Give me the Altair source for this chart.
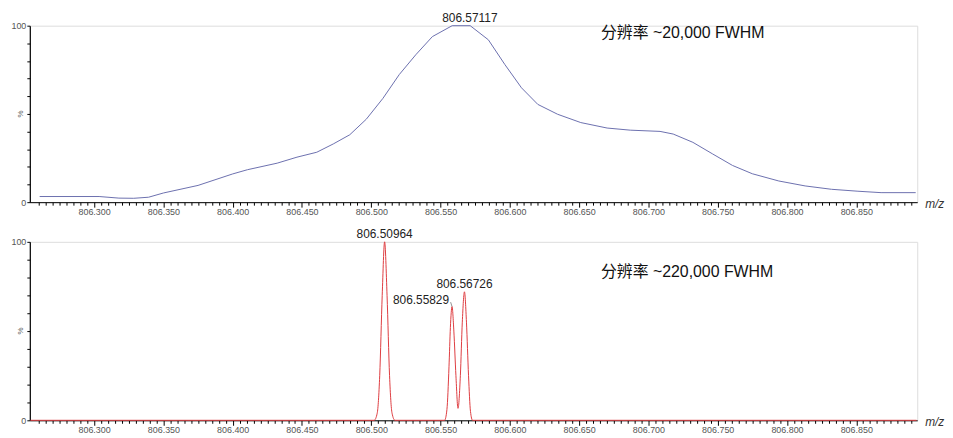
import altair as alt
import pandas as pd

# ---------------- data ----------------
top_mz = [806.2607, 806.3036, 806.3179, 806.3286, 806.3393, 806.3500, 806.3750,
          806.4000, 806.4107, 806.4321, 806.4464, 806.4607, 806.4726, 806.4845,
          806.4964, 806.5084, 806.5202, 806.5321, 806.5441, 806.5584, 806.5714,
          806.5845, 806.5964, 806.6084, 806.6202, 806.6345, 806.6512, 806.6702,
          806.6869, 806.7084, 806.7179, 806.7321, 806.7464, 806.7607, 806.7750,
          806.7941, 806.8131, 806.8321, 806.8512, 806.8679, 806.8929]
top_int = [3.2, 3.2, 2.3, 2.2, 2.8, 5.2, 9.5,
           16.0, 18.4, 22.1, 25.5, 28.3, 33.0, 38.2,
           47.0, 58.8, 72.3, 83.5, 93.8, 100.0, 100.0,
           92.0, 78.0, 64.8, 55.4, 49.8, 45.1, 42.0,
           40.8, 40.1, 38.6, 33.9, 27.3, 20.8, 16.1,
           12.0, 9.2, 7.3, 6.2, 5.4, 5.4]

bot_mz = [806.2540, 806.5021, 806.5043, 806.5061, 806.5079, 806.50964, 806.5114,
          806.5132, 806.5150, 806.5171, 806.5529, 806.5546, 806.5561, 806.5571,
          806.55829, 806.5596, 806.5611, 806.5626, 806.5643, 806.5657, 806.56726,
          806.5687, 806.5702, 806.5716, 806.5731, 806.8935]
bot_int = [0.0, 0.0, 4.0, 25.0, 70.0, 100.0, 70.0,
           25.0, 4.0, 0.0, 0.0, 6.0, 30.0, 52.0,
           63.7, 50.0, 25.0, 6.7, 25.0, 55.0, 72.0,
           55.0, 25.0, 5.0, 0.0, 0.0]

top_labels_mz = [806.57117]
top_labels_int = [100.0]
top_labels_txt = ["806.57117"]

bot_labels_mz = [806.50964, 806.55829, 806.56726]
bot_labels_int = [100.0, 63.7, 72.0]
bot_labels_txt = ["806.50964", "806.55829", "806.56726"]
bot_labels_align = ["center", "right", "center"]

top_note = "分辨率 ~20,000 FWHM"
bot_note = "分辨率 ~220,000 FWHM"

x_domain = [806.2536, 806.894]
minor_ticks = [round(806.260 + 0.005 * i, 3) for i in range(127)]
y_ticks = [0, 10, 20, 30, 40, 50, 60, 70, 80, 90, 100]

# ---------------- styling ----------------
W = 895
H_TOP = 178
H_BOT = 180
NUM_FONT = "Liberation Sans, Arial, Noto Sans CJK SC"
TOP_COLOR = "#6b6fae"
BOT_COLOR = "#de3c40"

xs = alt.Scale(domain=x_domain, nice=False, zero=False)
ys = alt.Scale(domain=[0, 100], nice=False)

major_test = "abs(datum.value * 20 - round(datum.value * 20)) < 0.001"

x_axis = alt.Axis(
    values=minor_ticks,
    labelExpr=f"{major_test} ? format(datum.value, '.3f') : ''",
    tickSize={"condition": {"test": major_test, "value": 5}, "value": 3},
    title=None, grid=False, labelOverlap=False, labelFlush=False,
    labelFontSize=9, labelFont=NUM_FONT, labelColor="#555555", labelPadding=0,
    domainColor="black", tickColor="black", domainWidth=1, tickWidth=1,
)
y_axis = alt.Axis(
    values=y_ticks,
    labelExpr="datum.value == 0 || datum.value == 100 ? datum.label : ''",
    tickSize=3, title=None, grid=False, labelOverlap=False, labelFlush=False,
    labelFontSize=9, labelFont=NUM_FONT, labelColor="#555555", labelPadding=1,
    domainColor="black", tickColor="black", domainWidth=1.2,
)


def panel(mz, inten, color, interp, lab_df, note, height, note_y):
    df = pd.DataFrame({"mz": mz, "int": inten})
    X = lambda f="mz:Q": alt.X(f, scale=xs, axis=x_axis)
    Y = lambda f="int:Q": alt.Y(f, scale=ys, axis=y_axis)

    line = alt.Chart(df).mark_line(color=color, strokeWidth=1, interpolate=interp).encode(
        x=X(), y=Y())
    layers = [line]
    for align in lab_df["align"].unique():
        sub = lab_df[lab_df["align"] == align]
        if align == "right":
            t = alt.Chart(sub).mark_text(align="right", baseline="middle", dx=-3, dy=-7,
                                         fontSize=12, font=NUM_FONT, color="#222222")
        else:
            t = alt.Chart(sub).mark_text(align="center", baseline="bottom", dy=-1,
                                         fontSize=12, font=NUM_FONT, color="#222222")
        layers.append(t.encode(x=X(), y=Y(), text="txt:N"))
    r = lab_df[lab_df["align"] == "right"]
    if len(r):
        lead = pd.DataFrame({"mz": r["mz"] - 0.0010, "int": r["int"] + 2.5,
                             "mz2": r["mz"], "int2": r["int"]})
        layers.append(alt.Chart(lead).mark_rule(color="#777777", strokeWidth=0.8).encode(
            x=X(), y=Y(), x2="mz2:Q", y2="int2:Q"))
    layers.append(alt.Chart(pd.DataFrame({"t": [note]})).mark_text(
        align="left", baseline="middle", fontSize=16,
        font="Liberation Sans, Arial, Noto Sans CJK SC", color="#111111").encode(
        x=alt.value(576), y=alt.value(note_y), text="t:N"))
    layers.append(alt.Chart(pd.DataFrame({"t": ["m/z"]})).mark_text(
        align="left", baseline="middle", fontSize=12, fontStyle="italic",
        font=NUM_FONT, color="#333333").encode(
        x=alt.value(W + 8), y=alt.value(height + 2), text="t:N"))
    layers.append(alt.Chart(pd.DataFrame({"t": ["%"]})).mark_text(
        align="center", baseline="middle", fontSize=8, angle=270,
        font=NUM_FONT, color="#555555").encode(
        x=alt.value(-9), y=alt.value(height / 2), text="t:N"))
    return alt.layer(*layers).properties(width=W, height=height)


top_lab = pd.DataFrame({"mz": top_labels_mz, "int": top_labels_int,
                        "txt": top_labels_txt, "align": ["center"]})
bot_lab = pd.DataFrame({"mz": bot_labels_mz, "int": bot_labels_int,
                        "txt": bot_labels_txt, "align": bot_labels_align})

top = panel(top_mz, top_int, TOP_COLOR, "linear", top_lab, top_note, H_TOP, 7)
bot = panel(bot_mz, bot_int, BOT_COLOR, "monotone", bot_lab, bot_note, H_BOT, 30)

chart = alt.vconcat(top, bot, spacing=40, bounds="flush").properties(
    padding={"left": 2, "top": 1, "right": 0, "bottom": 0}
).configure_view(stroke=None).configure_axis(labelOverlap=False).configure(background="white")

chart.save("out.html", embed_options={"renderer": "svg", "actions": False})
